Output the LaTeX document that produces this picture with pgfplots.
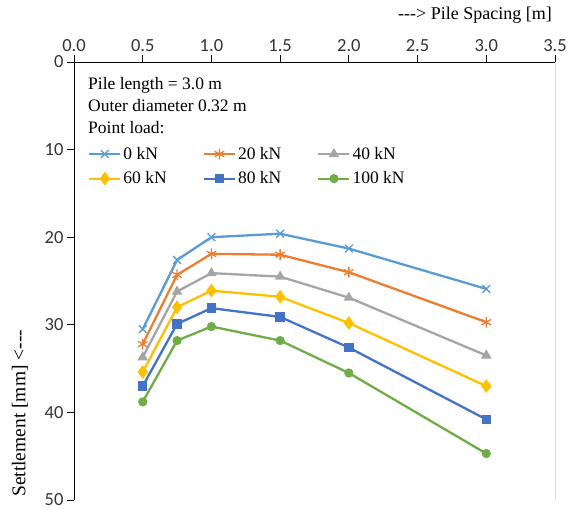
\documentclass[border=0pt]{standalone}
\usepackage{pgfplots}
\pgfplotsset{compat=1.18}
\usepackage{fontspec}
\setmainfont{Liberation Serif}
\newfontfamily\carlito{Carlito}
\definecolor{c0}{HTML}{5B9BD5}
\definecolor{c20}{HTML}{ED7D31}
\definecolor{c40}{HTML}{A5A5A5}
\definecolor{c60}{HTML}{FFC000}
\definecolor{c80}{HTML}{4472C4}
\definecolor{c100}{HTML}{70AD47}
\begin{document}
\begin{tikzpicture}
\begin{axis}[
  scale only axis, width=481pt, height=438pt,
  xmin=0, xmax=3.5, ymin=0, ymax=50, y dir=reverse,
  axis x line*=top, axis y line*=left,
  xtick={0,0.5,...,3.5}, ytick={0,10,...,50},
  xticklabel style={/pgf/number format/.cd, fixed, fixed zerofill, precision=1},
  /pgf/number format/assume math mode=true,
  tick align=outside, major tick length=7pt,
  tick style={black, line width=0.8pt},
  axis line style={line width=0.8pt},
  tick label style={font=\carlito\fontsize{18.5}{20}\selectfont, text=black!80},
  xlabel={{-}{-}-> Pile Spacing [m]},
  xlabel style={font=\fontsize{18}{20}\selectfont, at={(rel axis cs:1,1)}, anchor=south east,
    inner sep=0pt, xshift=-3pt, yshift=38pt},
  ylabel={Settlement [mm] <{-}{-}-},
  ylabel style={font=\fontsize{19.5}{21}\selectfont, at={(rel axis cs:0,0)}, anchor=west,
    inner sep=0pt, xshift=3pt, yshift=54pt},
  every axis plot/.append style={line width=2.3pt, mark size=3.8pt},
  legend columns=3,
  legend style={at={(rel axis cs:0,1)}, anchor=north west, xshift=14pt, yshift=-83pt,
    draw=none, fill=none, font=\fontsize{17.5}{20}\selectfont, inner sep=0pt,
    row sep=7pt,
    /tikz/every even column/.append style={column sep=34pt}},
  legend cell align=left,
  legend image code/.code={
    \draw[mark repeat=2,mark phase=2] plot coordinates {(0pt,0pt) (15.5pt,0pt) (31pt,0pt)};},
]
\coordinate (bl) at (rel axis cs:0,0);
\coordinate (tr) at (rel axis cs:1,1);
\draw[black, line width=0.8pt] (rel axis cs:0,0) rectangle (rel axis cs:1,1);
\addplot[c0, mark=x, mark size=5.5pt, mark options={line width=1.3pt}] coordinates {(0.5,30.5) (0.75,22.6) (1.0,20.0) (1.5,19.6) (2.0,21.3) (3.0,25.9)};
\addlegendentry{0 kN}
\addplot[c20, mark=asterisk, mark size=5.5pt, mark options={line width=1.3pt}] coordinates {(0.5,32.2) (0.75,24.3) (1.0,21.9) (1.5,22.0) (2.0,24.0) (3.0,29.7)};
\addlegendentry{20 kN}
\addplot[c40, mark=triangle*] coordinates {(0.5,33.7) (0.75,26.2) (1.0,24.1) (1.5,24.5) (2.0,26.9) (3.0,33.5)};
\addlegendentry{40 kN}
\addplot[c60, mark=diamond*, mark size=5pt] coordinates {(0.5,35.4) (0.75,28.0) (1.0,26.1) (1.5,26.8) (2.0,29.8) (3.0,37.0)};
\addlegendentry{60 kN}
\addplot[c80, mark=square*, mark size=3.6pt] coordinates {(0.5,37.0) (0.75,29.9) (1.0,28.1) (1.5,29.1) (2.0,32.6) (3.0,40.8)};
\addlegendentry{80 kN}
\addplot[c100, mark=*, mark size=3.4pt] coordinates {(0.5,38.8) (0.75,31.8) (1.0,30.2) (1.5,31.8) (2.0,35.5) (3.0,44.7)};
\addlegendentry{100 kN}
\node[anchor=north west, align=left, font=\fontsize{17.5}{22}\selectfont, inner sep=0pt]
  at (rel axis cs:0,1) [xshift=14pt, yshift=-15pt] {Pile length = 3.0 m\\Outer diameter 0.32 m\\Point load:};
\end{axis}
\pgfresetboundingbox
\path ([shift={(-74pt,-10pt)}]bl) rectangle ([shift={(16pt,62pt)}]tr);
\end{tikzpicture}
\end{document}
